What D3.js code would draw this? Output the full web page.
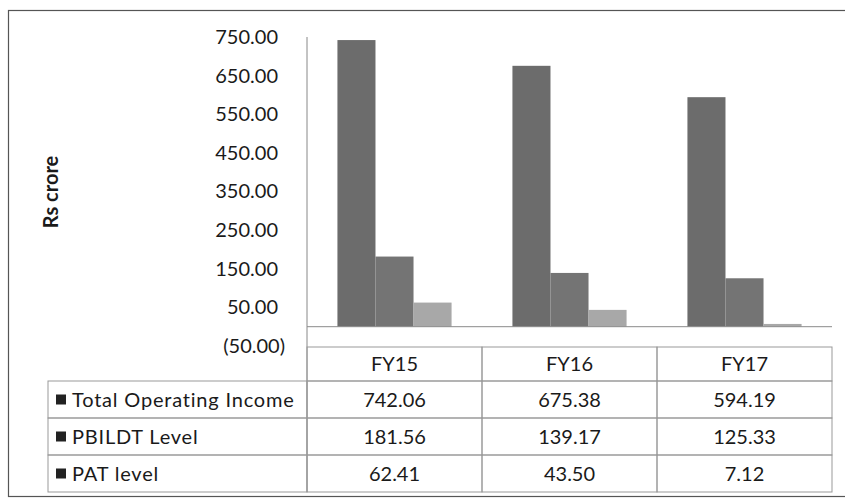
<!DOCTYPE html>
<html lang="en">
<head>
    <meta charset="UTF-8">
    <script src="https://d3js.org/d3.v7.min.js"></script>
    <title>Rs crore</title>
    <style>
        html, body {
            margin: 0;
            padding: 0;
            background: #fff;
        }
        text {
            font-family: "Lato", "Liberation Sans", sans-serif;
            fill: #1a1a1a;
        }
        .tick text {
            font-size: 20px;
        }
    </style>
</head>
<body>
    <script>
        // DATA
        const years = ["FY15", "FY16", "FY17"];
        const seriesNames = ["Total Operating Income", "PBILDT Level", "PAT level"];
        const totalIncome = [742.06, 675.38, 594.19];
        const pbildt = [181.56, 139.17, 125.33];
        const pat = [62.41, 43.50, 7.12];
        const yTicks = [-50, 50, 150, 250, 350, 450, 550, 650, 750];
        const seriesColors = ["#6c6c6c", "#747474", "#a8a8a8"];

        const seriesValues = [totalIncome, pbildt, pat];

        const width = 845;
        const height = 499;

        const svg = d3.select('body')
          .append('svg')
          .attr('width', width)
          .attr('height', height);

        // outer frame
        svg.append('rect')
          .attr('x', 8.5)
          .attr('y', 10.5)
          .attr('width', 850)
          .attr('height', 486)
          .attr('fill', 'none')
          .attr('stroke', '#555')
          .attr('stroke-width', 1.2);

        const plot = { left: 307, right: 832, top: 37, bottom: 346 };

        const x0 = d3.scaleBand()
          .domain(years)
          .range([plot.left, plot.right]);

        const x1 = d3.scaleBand()
          .domain(seriesNames)
          .range([0, x0.bandwidth()])
          .paddingOuter(0.8);

        const y = d3.scaleLinear()
          .domain([-50, 750])
          .range([plot.bottom, plot.top]);

        // y axis
        const yAxis = svg.append('g')
          .attr('transform', `translate(${plot.left},0)`)
          .call(d3.axisLeft(y)
            .tickValues(yTicks)
            .tickSize(0)
            .tickPadding(29)
            .tickFormat(d => d < 0 ? `(${Math.abs(d).toFixed(2)})` : d.toFixed(2)));
        yAxis.select('.domain').remove();
        yAxis.selectAll('.tick text')
          .attr('dx', d => d < 0 ? 7 : 0);

        svg.append('line')
          .attr('x1', plot.left).attr('x2', plot.left)
          .attr('y1', plot.top).attr('y2', 492)
          .attr('stroke', '#888');

        // y title
        svg.append('text')
          .attr('transform', `translate(58,192) rotate(-90)`)
          .attr('text-anchor', 'middle')
          .style('font-size', '20px')
          .style('font-weight', 'bold')
          .text('Rs crore');

        // bars
        const rows = years.map((yr, i) => ({
          year: yr,
          values: seriesNames.map((s, j) => ({ series: s, value: seriesValues[j][i], idx: j }))
        }));

        svg.append('g')
          .selectAll('g')
          .data(rows)
          .join('g')
          .attr('transform', d => `translate(${x0(d.year)},0)`)
          .selectAll('rect')
          .data(d => d.values)
          .join('rect')
          .attr('x', d => x1(d.series))
          .attr('y', d => y(Math.max(0, d.value)))
          .attr('width', x1.bandwidth())
          .attr('height', d => Math.abs(y(d.value) - y(0)))
          .attr('fill', d => seriesColors[d.idx]);

        // zero line
        svg.append('line')
          .attr('x1', plot.left).attr('x2', plot.right)
          .attr('y1', y(0)).attr('y2', y(0))
          .attr('stroke', '#8a8a8a');

        // data table
        const table = { left: 48, headTop: 347, rowTop: 381, rowH: 37 };
        const grid = svg.append('g').attr('stroke', '#999').attr('fill', 'none');

        // header row cells
        years.forEach(yr => {
          grid.append('rect')
            .attr('x', x0(yr))
            .attr('y', table.headTop)
            .attr('width', x0.bandwidth())
            .attr('height', table.rowTop - table.headTop);
          svg.append('text')
            .attr('x', x0(yr) + x0.bandwidth() / 2)
            .attr('y', (table.headTop + table.rowTop) / 2 + 7)
            .attr('text-anchor', 'middle')
            .style('font-size', '20px')
            .text(yr);
        });

        seriesNames.forEach((s, j) => {
          const top = table.rowTop + j * table.rowH;
          grid.append('rect')
            .attr('x', table.left)
            .attr('y', top)
            .attr('width', plot.left - table.left)
            .attr('height', table.rowH);
          svg.append('rect')
            .attr('x', 56)
            .attr('y', top + table.rowH / 2 - 5)
            .attr('width', 10)
            .attr('height', 10)
            .attr('fill', '#222');
          svg.append('text')
            .attr('x', 72)
            .attr('y', top + table.rowH / 2 + 7)
            .style('font-size', '20px')
            .style('letter-spacing', '0.8px')
            .text(s);

          years.forEach((yr, i) => {
            grid.append('rect')
              .attr('x', x0(yr))
              .attr('y', top)
              .attr('width', x0.bandwidth())
              .attr('height', table.rowH);
            svg.append('text')
              .attr('x', x0(yr) + x0.bandwidth() / 2)
              .attr('y', top + table.rowH / 2 + 7)
              .attr('text-anchor', 'middle')
              .style('font-size', '20px')
              .text(seriesValues[j][i].toFixed(2));
          });
        });
    </script>
</body>
</html>
